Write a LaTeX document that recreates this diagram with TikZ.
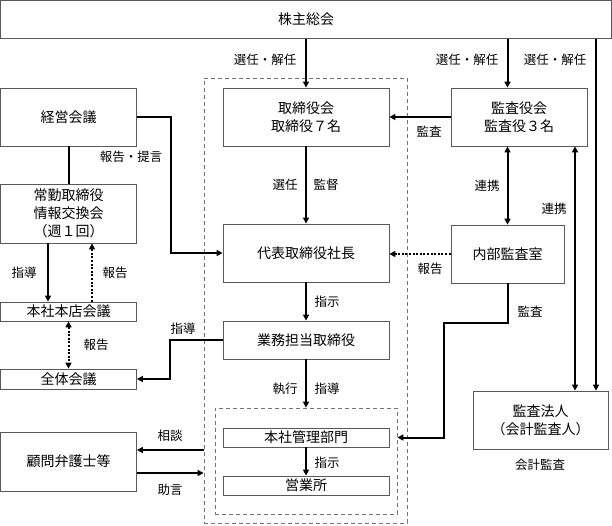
\documentclass[tikz,border=0pt]{standalone}
\usepackage{fontspec}
\setmainfont{Noto Sans CJK JP}
\usetikzlibrary{arrows.meta}
\tikzset{
  box/.style={draw=black!65, line width=0.8pt, align=center, inner sep=0pt, font=\fontsize{14}{18}\selectfont},
  lbl/.style={inner sep=0pt, font=\fontsize{12.5}{15}\selectfont},
  conn/.style={line width=2pt},
  arr/.style={conn, -{Triangle[length=6pt,width=6pt]}},
  darr/.style={conn, {Triangle[length=6pt,width=6pt]}-{Triangle[length=6pt,width=6pt]}},
  dotline/.style={dash pattern=on 2pt off 1.6pt},
  dbox/.style={draw=black!55, line width=0.8pt, dash pattern=on 4pt off 3pt},
}

\begin{document}
\begin{tikzpicture}[x=1pt,y=-1pt]
\useasboundingbox (0,0) rectangle (612,525);

%Dashed frames
\node[dbox, minimum width=203, minimum height=445] (outer) at (305.5,300.5){};
\node[dbox, minimum width=182, minimum height=106] (inner) at (306,461){};

%Boxes
\node[box, minimum width=611, minimum height=38] (kabu) at (306,19.5){株主総会};
\node[box, minimum width=136, minimum height=58] (keiei) at (68.5,117){経営会議};
\node[box, minimum width=166, minimum height=58] (tori) at (306,117){取締役会\\取締役７名};
\node[box, minimum width=136, minimum height=58] (kansa) at (519,117){監査役会\\監査役３名};
\node[box, minimum width=136, minimum height=59] (joukin) at (68.5,213.5){常勤取締役\\情報交換会\\（週１回）};
\node[box, minimum width=166, minimum height=58] (daihyo) at (306,253){代表取締役社長};
\node[box, minimum width=113, minimum height=58] (naibu) at (507.5,254){内部監査室};
\node[box, minimum width=136, minimum height=19] (honten) at (68.5,311.5){本社本店会議};
\node[box, minimum width=166, minimum height=38] (gyomu) at (306,340){業務担当取締役};
\node[box, minimum width=136, minimum height=20] (zentai) at (68.5,379){全体会議};
\node[box, minimum width=135, minimum height=58] (hojin) at (540.5,420){監査法人\\（会計監査人）};
\node[box, minimum width=136, minimum height=59] (komon) at (68.5,461.5){顧問弁護士等};
\node[box, minimum width=166, minimum height=19] (kanri) at (306,437.5){本社管理部門};
\node[box, minimum width=166, minimum height=19] (eigyo) at (306,485.5){営業所};

%Vertical tracks
\coordinate (xa) at (596,0);
\coordinate (xb) at (575,0);
\coordinate (xc) at (48,0);
\coordinate (xd) at (92,0);

%Connectors
\draw[arr] (kabu.south -| tori) -- (tori.north);
\draw[arr] (kabu.south -| naibu) -- (kansa.north -| naibu);
\draw[arr] (kabu.south -| xa) -- (hojin.north -| xa);
\draw[arr] (kansa.west) -- (tori.east);
\draw[conn] (keiei.south) -- (joukin.north);
\draw[arr] (keiei.east) -- ++(34,0) |- (daihyo.west);
\draw[arr] (joukin.south -| xc) -- (honten.north -| xc);
\draw[arr, dotline] (honten.north -| xd) -- (joukin.south -| xd);
\draw[darr, dotline] (honten.south) -- (zentai.north);
\draw[arr] (gyomu.west) -- ++(-53,0) |- (zentai.east);
\draw[arr] (tori.south) -- (daihyo.north);
\draw[arr, dotline] (naibu.west) -- (naibu.west -| daihyo.east);
\draw[darr] (kansa.south -| naibu) -- (naibu.north);
\draw[darr] (kansa.south -| xb) -- (hojin.north -| xb);
\draw[arr] (daihyo.south) -- (gyomu.north);
\draw[arr] (gyomu.south) -- (inner.north);
\draw[arr] (kanri.south) -- (eigyo.north);
\draw[arr] (naibu.south) -- ++(0,40) -- ++(-64,0) |- (kanri.east -| inner.east);
\draw[arr] ([yshift=11.5pt]komon.east -| outer.west) -- ([yshift=11.5pt]komon.east);
\draw[arr] ([yshift=-11.5pt]komon.east) -- ([yshift=-11.5pt]komon.east -| outer.west);

%Labels
\node[lbl] (l1) at (265,60){選任・解任};
\node[lbl] (l2) at (467,60){選任・解任};
\node[lbl] (l3) at (555,60){選任・解任};
\node[lbl] (l4) at (429,132){監査};
\node[lbl] (l5) at (131,157){報告・提言};
\node[lbl] (l6) at (285,185){選任};
\node[lbl] (l7) at (326,185){監督};
\node[lbl] (l8) at (487,186){連携};
\node[lbl] (l9) at (554,209){連携};
\node[lbl] (l10) at (24,273){指導};
\node[lbl] (l11) at (115,273){報告};
\node[lbl] (l12) at (430,269){報告};
\node[lbl] (l13) at (327,302){指示};
\node[lbl] (l14) at (530,312){監査};
\node[lbl] (l15) at (183,329){指導};
\node[lbl] (l16) at (96,345){報告};
\node[lbl] (l17) at (285,389){執行};
\node[lbl] (l18) at (327,389){指導};
\node[lbl] (l19) at (170,436){相談};
\node[lbl] (l20) at (170,490){助言};
\node[lbl] (l21) at (327,463){指示};
\node[lbl] (l22) at (540,465){会計監査};

\end{tikzpicture}
\end{document}
